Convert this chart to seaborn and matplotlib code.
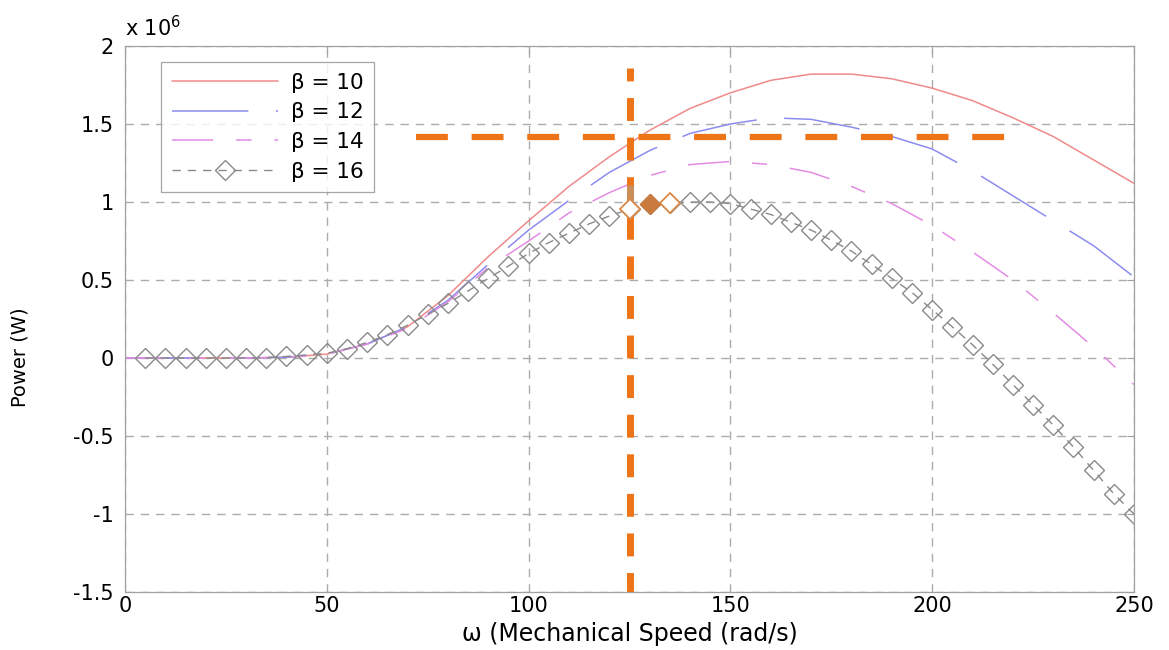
import numpy as np
import pandas as pd
import matplotlib
matplotlib.use("Agg")
import matplotlib.pyplot as plt
import seaborn as sns

# rotor speed grid for the three smooth curves (rad/s)
speed = [0, 10, 20, 30, 40, 50, 60, 70, 80, 90, 100, 110, 120, 130, 140,
         150, 160, 170, 180, 190, 200, 210, 220, 230, 240, 250]
# power in MW (axis shows x 10^6 W)
p_b10 = [0, 0, 0, 0, 0.005, 0.025, 0.09, 0.2, 0.4, 0.65, 0.88, 1.1, 1.29, 1.46,
         1.6, 1.7, 1.78, 1.82, 1.82, 1.79, 1.73, 1.65, 1.54, 1.42, 1.27, 1.12]
p_b12 = [0, 0, 0, 0, 0.005, 0.025, 0.09, 0.2, 0.37, 0.6, 0.82, 1.01, 1.19, 1.33,
         1.44, 1.5, 1.54, 1.53, 1.48, 1.42, 1.34, 1.2, 1.04, 0.88, 0.72, 0.52]
p_b14 = [0, 0, 0, 0, 0.005, 0.025, 0.09, 0.19, 0.36, 0.58, 0.75, 0.93, 1.06, 1.17,
         1.24, 1.26, 1.24, 1.19, 1.1, 0.99, 0.85, 0.68, 0.5, 0.29, 0.07, -0.17]

# beta = 16 curve with markers every 5 rad/s
speed16 = [5, 10, 15, 20, 25, 30, 35, 40, 45, 50, 55, 60, 65, 70, 75, 80, 85, 90,
           95, 100, 105, 110, 115, 120, 125, 130, 135, 140, 145, 150, 155, 160,
           165, 170, 175, 180, 185, 190, 195, 200, 205, 210, 215, 220, 225, 230,
           235, 240, 245, 250]
p_b16 = [0, 0, 0, 0, 0, 0, 0.003, 0.01, 0.02, 0.03, 0.06, 0.1, 0.15, 0.21, 0.28,
         0.35, 0.43, 0.51, 0.59, 0.67, 0.74, 0.8, 0.86, 0.91, 0.955, 0.99, 0.995,
         1.0, 1.0, 0.99, 0.955, 0.92, 0.87, 0.82, 0.755, 0.685, 0.6, 0.51, 0.42,
         0.31, 0.2, 0.085, -0.04, -0.17, -0.3, -0.43, -0.57, -0.72, -0.87, -1.0]

# operating point guides
op_speed = 125
op_power = 1.42
guide_h_x = [72, 220.5]
guide_v_y = [-1.5, 1.86]
tan_dash_y = [0.97, 1.11]
hollow_pts = [125, 135]
filled_pts = [130]

sns.set_style("white")
plt.rcParams['font.family'] = ['DejaVu Sans']
plt.rcParams['axes.unicode_minus'] = False
plt.rcParams['text.color'] = 'black'
plt.rcParams['axes.labelcolor'] = 'black'
plt.rcParams['xtick.labelcolor'] = 'black'
plt.rcParams['ytick.labelcolor'] = 'black'

fig = plt.figure(figsize=(11.69, 6.5), dpi=100)
ax = fig.add_axes([0.107, 0.0892, 0.863, 0.84])

df = pd.DataFrame({"w": speed, "b10": p_b10, "b12": p_b12, "b14": p_b14})
df16 = pd.DataFrame({"w": speed16, "b16": p_b16})

sns.lineplot(data=df, x="w", y="b10", ax=ax, color="#f08a8a", lw=1.1,
             label=u"\u03b2 = 10")
sns.lineplot(data=df, x="w", y="b12", ax=ax, color="#8c8cf0", lw=1.1,
             label=u"\u03b2 = 12")
ax.lines[-1].set_linestyle((0, (50, 18)))
sns.lineplot(data=df, x="w", y="b14", ax=ax, color="#e48ce4", lw=1.1,
             label=u"\u03b2 = 14")
ax.lines[-1].set_linestyle((0, (27, 15, 10, 15)))
sns.lineplot(data=df16, x="w", y="b16", ax=ax, color="#8a8a8a", lw=1.0,
             marker="D", markersize=10, markerfacecolor="none",
             markeredgecolor="#8a8a8a", markeredgewidth=1.0,
             label=u"\u03b2 = 16")
ax.lines[-1].set_linestyle((0, (6, 5)))

# highlighted markers near the operating point
sel = df16[df16["w"].isin(hollow_pts)]
ax.plot(sel["w"], sel["b16"], "D", ms=10, mfc="white", mec="#d98a4a", mew=1.3,
        zorder=5)
sel = df16[df16["w"].isin(filled_pts)]
ax.plot(sel["w"], sel["b16"], "D", ms=10, mfc="#c97a3c", mec="#c97a3c",
        zorder=5)

# orange guide lines
ax.plot(guide_h_x, [op_power, op_power], color="#ee7418", lw=4.5,
        linestyle=(0, (5.1, 3.8)), zorder=4)
ax.plot([op_speed, op_speed], guide_v_y, color="#ee7418", lw=5,
        linestyle=(0.5, (3.3, 2.4)), zorder=4)
ax.plot([op_speed, op_speed], tan_dash_y, color="#c98e5a", lw=5,
        solid_capstyle="butt", zorder=4.5)

ax.set_xlim(0, 250)
ax.set_ylim(-1.5, 2)
ax.set_xticks([0, 50, 100, 150, 200, 250])
ax.set_yticks([-1.5, -1, -0.5, 0, 0.5, 1, 1.5, 2])
ax.yaxis.set_major_formatter(matplotlib.ticker.FormatStrFormatter('%g'))
ax.tick_params(direction="in", length=5, color="#a0a0a0", labelsize=15,
               top=True, right=True, pad=3)
ax.tick_params(axis="y", pad=8)
ax.grid(True, color="#acacac", linestyle=(0, (6, 5)), lw=1)
for s in ax.spines.values():
    s.set_color("#a0a0a0")
    s.set_linewidth(0.9)

ax.set_xlabel(u"\u03c9 (Mechanical Speed (rad/s)", fontsize=17, labelpad=4)
ax.set_ylabel("Power (W)", fontsize=14)
ax.yaxis.set_label_coords(-0.095, 0.43)
ax.text(0.0, 1.01, r"x 10$^{6}$", transform=ax.transAxes, fontsize=15,
        ha="left", va="bottom")

leg = ax.legend(loc="upper left", bbox_to_anchor=(0.036, 0.971),
                borderaxespad=0, fancybox=False, frameon=True, fontsize=15.5,
                handlelength=4.9, handletextpad=0.6, labelspacing=0.45,
                borderpad=0.5, edgecolor="#909090")
leg.get_frame().set_linewidth(0.9)

fig.savefig("out.png", dpi=100, facecolor="white")
